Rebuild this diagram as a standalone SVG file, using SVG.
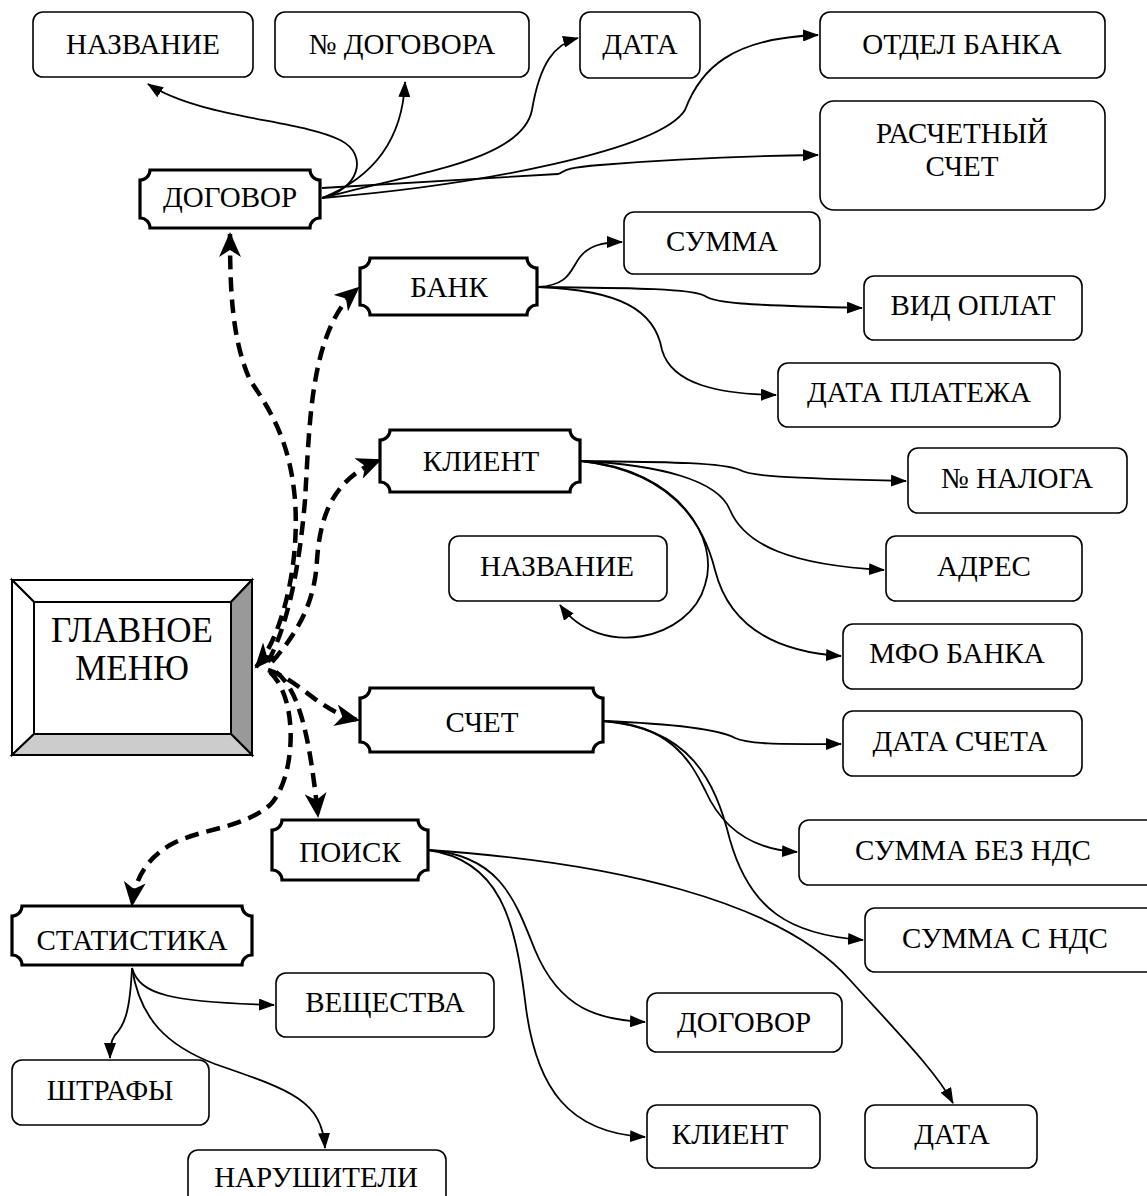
<svg xmlns="http://www.w3.org/2000/svg" width="1147" height="1196" viewBox="0 0 1147 1196">
<style>
.box{fill:#fff;stroke:#000;stroke-width:1.6}
.plq{fill:#fff;stroke:#000;stroke-width:3.2}
.t{font-family:"Liberation Serif","Times New Roman",serif;font-size:29px;fill:#000;text-anchor:middle;dominant-baseline:central}
.tb{font-family:"Liberation Serif","Times New Roman",serif;font-size:35px;fill:#000;text-anchor:middle}
.c{fill:none;stroke:#000;stroke-width:1.8;marker-end:url(#a)}
.d{fill:none;stroke:#000;stroke-width:4.5;stroke-dasharray:14 8;marker-end:url(#b)}
</style>
<defs>
<marker id="a" markerUnits="userSpaceOnUse" markerWidth="16" markerHeight="12" refX="15" refY="6" orient="auto"><path d="M0,0 L16,6 L0,12 Z" fill="#000"/></marker>
<marker id="b" markerUnits="userSpaceOnUse" markerWidth="26" markerHeight="22" refX="23" refY="11" orient="auto-start-reverse"><path d="M0,0 L25,11 L0,22 L7,11 Z" fill="#000"/></marker>
</defs>
<g id="connectors">
<path class="c" d="M322,198 C358,190 370,155 340,140 C300,120 200,118 148,84"/>
<path class="c" d="M322,198 C362,182 402,150 405,82"/>
<path class="c" d="M322,198 C420,172 522,160 532,110 C540,62 555,44 578,38"/>
<path class="c" d="M322,198 C480,185 660,150 685,110 C700,70 730,38 818,35"/>
<path class="c" d="M322,188 L558,174 C565,172 560,168 600,165 C660,160 740,156 818,155"/>
<path class="c" d="M538,287 C570,285 570,270 580,257 C588,247 600,242 622,242"/>
<path class="c" d="M538,287 C620,288 690,288 705,296 C715,303 740,305 862,308"/>
<path class="c" d="M538,287 C620,290 655,310 662,350 C672,385 720,394 776,395"/>
<path class="c" d="M581,461 C660,462 720,462 740,470 C750,476 780,478 906,481"/>
<path class="c" d="M581,461 C660,465 718,480 730,510 C745,545 790,565 884,570"/>
<path class="c" d="M581,461 C660,470 700,510 715,570 C730,630 780,652 841,656"/>
<path class="c" d="M581,461 C680,470 720,540 705,585 C690,640 600,660 560,605"/>
<path class="c" d="M603,721 C680,724 720,730 735,738 C750,745 790,744 841,744"/>
<path class="c" d="M603,721 C670,725 690,760 705,790 C725,835 760,850 797,852"/>
<path class="c" d="M603,721 C690,728 715,780 730,840 C750,910 790,935 863,940"/>
<path class="c" d="M428,850 C500,855 515,900 535,950 C560,1010 600,1020 645,1022"/>
<path class="c" d="M428,850 C500,860 515,920 525,1000 C535,1090 570,1133 645,1137"/>
<path class="c" d="M428,850 C610,862 780,900 850,980 C895,1030 935,1070 953,1103"/>
<path class="c" d="M132,968 C140,995 170,1002 274,1005"/>
<path class="c" d="M132,968 C130,1010 125,1025 115,1035 C110,1042 110,1050 110,1058"/>
<path class="c" d="M132,968 C140,1020 168,1046 215,1064 C290,1090 322,1100 325,1148"/>
<path class="d" style="marker-start:url(#b)" d="M256,667 C280,640 300,570 295,500 C290,440 270,410 250,380 C232,340 230,290 230,234"/>
<path class="d" d="M268,662 C290,620 300,560 305,500 C310,420 310,330 358,288"/>
<path class="d" d="M272,662 C300,630 315,600 317,560 C320,520 330,480 380,460"/>
<path class="d" d="M268,670 C300,680 320,712 358,720"/>
<path class="d" d="M276,672 C300,690 310,740 318,816"/>
<path class="d" d="M270,672 C300,700 295,780 270,805 C240,830 200,828 170,845 C145,860 135,880 132,905"/>
</g>
<g id="n-glavnoe-menyu">
<polygon points="12,580 252,580 231,602 34,602" fill="#fff" stroke="#000" stroke-width="2"/>
<polygon points="12,580 34,602 34,734 12,755" fill="#fff" stroke="#000" stroke-width="2"/>
<polygon points="252,580 252,755 231,734 231,602" fill="#999" stroke="#000" stroke-width="2"/>
<polygon points="12,755 252,755 231,734 34,734" fill="#ccc" stroke="#000" stroke-width="2"/>
<rect x="34" y="602" width="197" height="132" fill="#fff" stroke="#000" stroke-width="2"/>
<text class="tb" x="132" y="642">ГЛАВНОЕ</text>
<text class="tb" x="132" y="680">МЕНЮ</text>
</g>
<g id="n-nazvanie-top"><rect class="box" x="33" y="12" width="220" height="65" rx="10"/><text class="t" x="143" y="44">НАЗВАНИЕ</text></g>
<g id="n-nomer-dogovora"><rect class="box" x="275" y="12" width="254" height="65" rx="10"/><text class="t" x="402" y="44">№ ДОГОВОРА</text></g>
<g id="n-data-top"><rect class="box" x="580" y="12" width="120" height="66" rx="10"/><text class="t" x="640" y="44">ДАТА</text></g>
<g id="n-otdel-banka"><rect class="box" x="820" y="12" width="285" height="66" rx="10"/><text class="t" x="962" y="44">ОТДЕЛ БАНКА</text></g>
<g id="n-raschetny-schet"><rect class="box" x="820" y="101" width="285" height="109" rx="14"/><text class="t" x="962" y="133">РАСЧЕТНЫЙ</text><text class="t" x="962" y="166">СЧЕТ</text></g>
<g id="n-dogovor"><path class="plq" d="M150,170 H310 A10,10 0 0 0 320,180 V218 A10,10 0 0 0 310,228 H150 A10,10 0 0 0 140,218 V180 A10,10 0 0 0 150,170 Z"/><text class="t" x="230" y="197">ДОГОВОР</text></g>
<g id="n-bank"><path class="plq" d="M370,258 H527 A10,10 0 0 0 537,268 V305 A10,10 0 0 0 527,315 H370 A10,10 0 0 0 360,305 V268 A10,10 0 0 0 370,258 Z"/><text class="t" x="449" y="287">БАНК</text></g>
<g id="n-summa"><rect class="box" x="624" y="212" width="196" height="62" rx="10"/><text class="t" x="722" y="241">СУММА</text></g>
<g id="n-vid-oplat"><rect class="box" x="864" y="276" width="218" height="64" rx="10"/><text class="t" x="973" y="305">ВИД ОПЛАТ</text></g>
<g id="n-data-platezha"><rect class="box" x="778" y="363" width="282" height="64" rx="10"/><text class="t" x="919" y="392">ДАТА ПЛАТЕЖА</text></g>
<g id="n-klient"><path class="plq" d="M390,430 H570 A10,10 0 0 0 580,440 V482 A10,10 0 0 0 570,492 H390 A10,10 0 0 0 380,482 V440 A10,10 0 0 0 390,430 Z"/><text class="t" x="481" y="461">КЛИЕНТ</text></g>
<g id="n-nomer-naloga"><rect class="box" x="908" y="448" width="219" height="65" rx="10"/><text class="t" x="1017" y="478">№ НАЛОГА</text></g>
<g id="n-nazvanie-mid"><rect class="box" x="449" y="536" width="218" height="65" rx="10"/><text class="t" x="557" y="566">НАЗВАНИЕ</text></g>
<g id="n-adres"><rect class="box" x="886" y="536" width="196" height="65" rx="10"/><text class="t" x="984" y="566">АДРЕС</text></g>
<g id="n-mfo-banka"><rect class="box" x="843" y="624" width="239" height="65" rx="10"/><text class="t" x="957" y="653">МФО БАНКА</text></g>
<g id="n-schet"><path class="plq" d="M370,688 H593 A10,10 0 0 0 603,698 V742 A10,10 0 0 0 593,752 H370 A10,10 0 0 0 360,742 V698 A10,10 0 0 0 370,688 Z"/><text class="t" x="482" y="722">СЧЕТ</text></g>
<g id="n-data-scheta"><rect class="box" x="843" y="711" width="239" height="65" rx="10"/><text class="t" x="960" y="741">ДАТА СЧЕТА</text></g>
<g id="n-summa-bez-nds"><rect class="box" x="799" y="820" width="360" height="65" rx="10"/><text class="t" x="973" y="850">СУММА БЕЗ НДС</text></g>
<g id="n-summa-s-nds"><rect class="box" x="865" y="908" width="294" height="64" rx="10"/><text class="t" x="1005" y="938">СУММА С НДС</text></g>
<g id="n-poisk"><path class="plq" d="M282,820 H418 A10,10 0 0 0 428,830 V870 A10,10 0 0 0 418,880 H282 A10,10 0 0 0 272,870 V830 A10,10 0 0 0 282,820 Z"/><text class="t" x="350" y="852">ПОИСК</text></g>
<g id="n-statistika"><path class="plq" d="M22,906 H242 A10,10 0 0 0 252,916 V955 A10,10 0 0 0 242,965 H22 A10,10 0 0 0 12,955 V916 A10,10 0 0 0 22,906 Z"/><text class="t" x="132" y="940">СТАТИСТИКА</text></g>
<g id="n-veshchestva"><rect class="box" x="276" y="973" width="218" height="64" rx="10"/><text class="t" x="385" y="1002">ВЕЩЕСТВА</text></g>
<g id="n-shtrafy"><rect class="box" x="12" y="1060" width="197" height="65" rx="10"/><text class="t" x="110" y="1090">ШТРАФЫ</text></g>
<g id="n-narushiteli"><rect class="box" x="188" y="1150" width="258" height="60" rx="10"/><text class="t" x="316" y="1177">НАРУШИТЕЛИ</text></g>
<g id="n-dogovor-bottom"><rect class="box" x="647" y="993" width="195" height="59" rx="10"/><text class="t" x="744" y="1022">ДОГОВОР</text></g>
<g id="n-klient-bottom"><rect class="box" x="647" y="1105" width="173" height="63" rx="10"/><text class="t" x="730" y="1134">КЛИЕНТ</text></g>
<g id="n-data-bottom"><rect class="box" x="865" y="1105" width="172" height="63" rx="10"/><text class="t" x="952" y="1134">ДАТА</text></g>
</svg>
